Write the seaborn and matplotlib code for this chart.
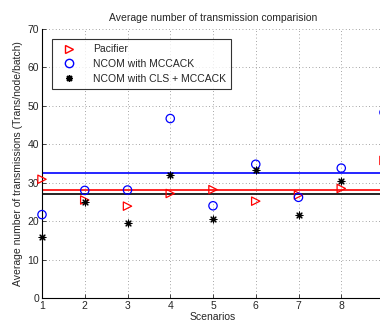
import numpy as np
import pandas as pd
import matplotlib
matplotlib.use("Agg")
import matplotlib.pyplot as plt
import seaborn as sns
from matplotlib.lines import Line2D

scenarios = [1, 2, 3, 4, 5, 6, 7, 8, 9]
pacifier = [30.9, 25.5, 23.9, 27.2, 28.2, 25.2, 26.8, 28.5, 35.8]
ncom_mccack = [21.7, 28.0, 28.1, 46.7, 24.0, 34.8, 26.2, 33.8, 48.3]
ncom_cls_mccack = [15.8, 25.0, 19.4, 31.9, 20.5, 33.4, 21.6, 30.5, 44.3]
labels = ["Pacifier", "NCOM with MCCACK", "NCOM with CLS + MCCACK"]
xtick_labels = ["1", "2", "3", "4", "5", "6", "7", "8", ""]
yticks = [0, 10, 20, 30, 40, 50, 60, 70]

sns.set_style("white")
plt.rcParams['font.family'] = ['Liberation Sans', 'DejaVu Sans']

W, H = 380, 324
fig = plt.figure(figsize=(W / 100, H / 100), dpi=100)
ax = fig.add_axes([42 / W, (H - 298) / H, 342 / W, (298 - 29) / H])

df = pd.DataFrame({"s": scenarios, "p": pacifier, "m": ncom_mccack, "c": ncom_cls_mccack})

ax.grid(True, linestyle=(0, (1, 3)), color="#888888", linewidth=0.6)
ax.set_axisbelow(True)

# mean lines
ax.axhline(np.mean(ncom_mccack), color="blue", lw=1.2, zorder=2)
ax.axhline(np.mean(pacifier), color="red", lw=1.2, zorder=2)
ax.axhline(np.mean(ncom_cls_mccack), color="black", lw=1.2, zorder=2)

sns.scatterplot(data=df, x="s", y="p", ax=ax, marker=">", s=36,
                facecolor="none", edgecolor="red", linewidth=0.9, zorder=3, clip_on=False)
sns.scatterplot(data=df, x="s", y="m", ax=ax, marker="o", s=36,
                facecolor="none", edgecolor="blue", linewidth=0.9, zorder=3, clip_on=False)
sns.scatterplot(data=df, x="s", y="c", ax=ax, marker=(8, 2, 0), s=24,
                color="black", linewidth=0.8, zorder=3, clip_on=False)

ax.set_xlim(1, 9)
ax.set_ylim(0, 70)
ax.set_xticks(scenarios)
ax.set_xticklabels(xtick_labels)
ax.set_yticks(yticks)
ax.tick_params(direction="in", length=3, width=0.6, labelsize=7.5, pad=2,
               bottom=True, left=True)
for sp in ["top", "right"]:
    ax.spines[sp].set_visible(False)
for sp in ["left", "bottom"]:
    ax.spines[sp].set_color("black")
    ax.spines[sp].set_linewidth(0.8)

ax.set_xlabel("Scenarios", fontsize=7.5, labelpad=1)
ax.set_ylabel("Average number of transmissions (Trans/node/batch)", fontsize=7.5, labelpad=3)
ax.set_title("Average number of transmission comparision", fontsize=7.5, pad=6)

handles = [
    Line2D([], [], marker=">", color="red", markerfacecolor="none", linestyle="none", markersize=6),
    Line2D([], [], marker="o", color="blue", markerfacecolor="none", linestyle="none", markersize=6),
    Line2D([], [], marker=(8, 2, 0), color="black", linestyle="none", markersize=5),
]
leg = ax.legend(handles, labels, loc="upper left", bbox_to_anchor=(52 / W, 1 - 39 / H),
                bbox_transform=fig.transFigure, fontsize=7.5, frameon=True, fancybox=False,
                edgecolor="black", handlelength=2.2, borderpad=0.5, labelspacing=0.45,
                handletextpad=1.2, borderaxespad=0)
leg.get_frame().set_linewidth(0.8)

fig.savefig("out.png", dpi=100)
